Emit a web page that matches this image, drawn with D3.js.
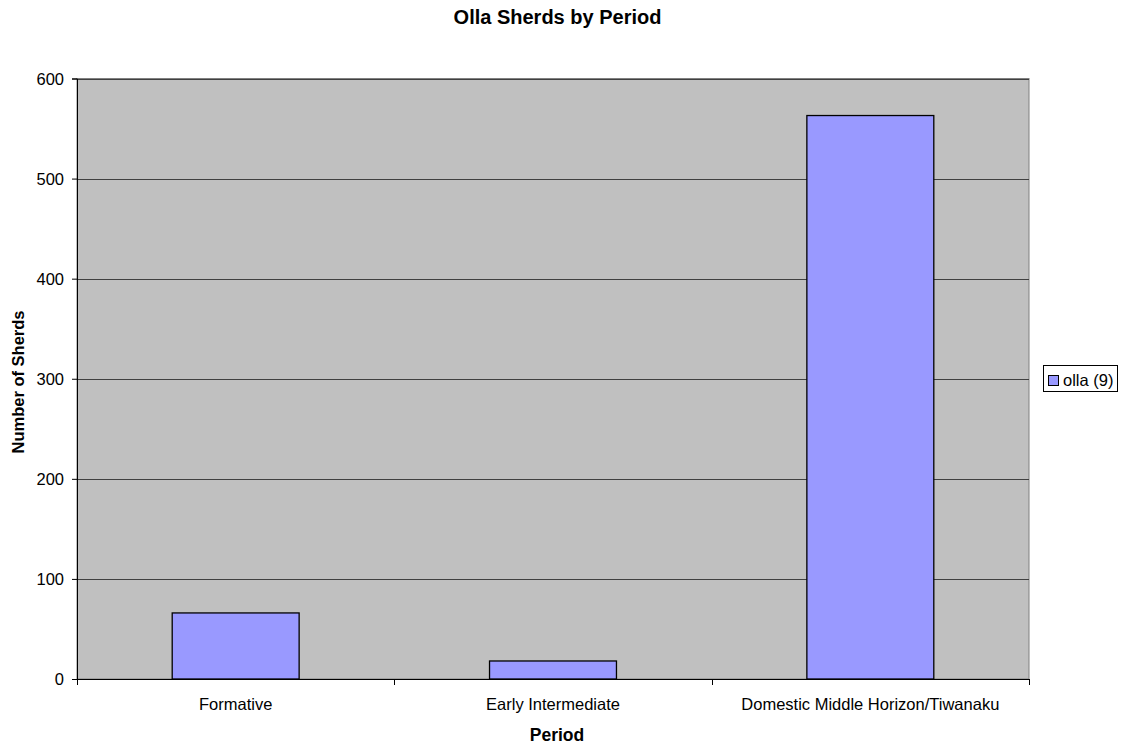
<!DOCTYPE html>
<html>
<head>
<meta charset="utf-8">
<script src="https://cdn.jsdelivr.net/npm/d3@7"></script>
<style>
  html, body { margin: 0; padding: 0; background: #fff; }
  svg text { font-family: "Liberation Sans", Arial, sans-serif; fill: #000; }
</style>
</head>
<body>
<svg id="chart" width="1127" height="746"></svg>
<script>
// Olla sherd counts per period
const categories = ["Formative", "Early Intermediate", "Domestic Middle Horizon/Tiwanaku"];
const ollaCounts = [66, 18, 563];
const yTicks = [0, 100, 200, 300, 400, 500, 600];
const seriesName = "olla (9)";

const svg = d3.select("#chart");
const plot = { left: 77, top: 78.5, right: 1029, bottom: 679 };

const x = d3.scaleBand().domain(categories).range([plot.left, plot.right]).padding(0);
const y = d3.scaleLinear().domain([0, 600]).range([plot.bottom, plot.top]);

// plot area background
svg.append("rect")
  .attr("x", plot.left).attr("y", plot.top)
  .attr("width", plot.right - plot.left).attr("height", plot.bottom - plot.top)
  .attr("fill", "#C0C0C0").attr("stroke", "#808080").attr("stroke-width", 1);

// horizontal gridlines
svg.append("g").selectAll("line")
  .data(yTicks.filter(d => d > 0))
  .join("line")
  .attr("x1", plot.left).attr("x2", plot.right)
  .attr("y1", d => Math.round(y(d)) + 0.5).attr("y2", d => Math.round(y(d)) + 0.5)
  .attr("stroke", "#404040").attr("stroke-width", 1);

// bars
const barW = x.bandwidth() * 0.4;
svg.append("g").selectAll("rect")
  .data(ollaCounts)
  .join("rect")
  .attr("x", (d, i) => x(categories[i]) + (x.bandwidth() - barW) / 2)
  .attr("y", d => y(d))
  .attr("width", barW)
  .attr("height", d => y(0) - y(d))
  .attr("fill", "#9999FF").attr("stroke", "#000").attr("stroke-width", 1.3);

// y axis
const yAxis = d3.axisLeft(y).tickValues(yTicks).tickSize(5).tickPadding(8).tickFormat(d3.format("d"));
const gy = svg.append("g").attr("transform", `translate(${plot.left},0)`).call(yAxis);
gy.attr("font-size", null).attr("font-family", null);
gy.select(".domain").attr("stroke", "#000");
gy.selectAll(".tick line").attr("stroke", "#000");
gy.selectAll(".tick text").attr("font-size", 16.5).attr("dy", "0.35em").style("fill", "#000");

// x axis: ticks at category boundaries
const gx = svg.append("g").attr("transform", `translate(0,${plot.bottom})`);
gx.append("line").attr("x1", plot.left).attr("x2", plot.right).attr("y1", 0.5).attr("y2", 0.5).attr("stroke", "#000");
const bounds = categories.map(c => x(c)).concat([plot.right]);
gx.selectAll(".bt").data(bounds).join("line")
  .attr("x1", d => Math.round(d) + 0.5).attr("x2", d => Math.round(d) + 0.5)
  .attr("y1", 0).attr("y2", 6).attr("stroke", "#000");
gx.selectAll("text").data(categories).join("text")
  .attr("x", d => x(d) + x.bandwidth() / 2)
  .attr("y", 30.5)
  .attr("text-anchor", "middle")
  .attr("font-size", 16.5)
  .text(d => d);

// titles
svg.append("text").attr("x", 557.5).attr("y", 24).attr("text-anchor", "middle")
  .attr("font-size", 20).attr("font-weight", "bold").text("Olla Sherds by Period");
svg.append("text").attr("x", 557).attr("y", 740.5).attr("text-anchor", "middle")
  .attr("font-size", 17.5).attr("font-weight", "bold").text("Period");
svg.append("text").attr("transform", "translate(23.5,382) rotate(-90)").attr("text-anchor", "middle")
  .attr("font-size", 16.5).attr("font-weight", "bold").text("Number of Sherds");

// legend
const lg = svg.append("g").attr("transform", "translate(1043,365)");
lg.append("rect").attr("x", 0.5).attr("y", 0.5).attr("width", 74).attr("height", 26)
  .attr("fill", "#fff").attr("stroke", "#000");
lg.append("rect").attr("x", 5.5).attr("y", 10.5).attr("width", 10).attr("height", 10)
  .attr("fill", "#9999FF").attr("stroke", "#000");
lg.append("text").attr("x", 20).attr("y", 20.7).attr("font-size", 16.5).text(seriesName);
</script>
</body>
</html>
